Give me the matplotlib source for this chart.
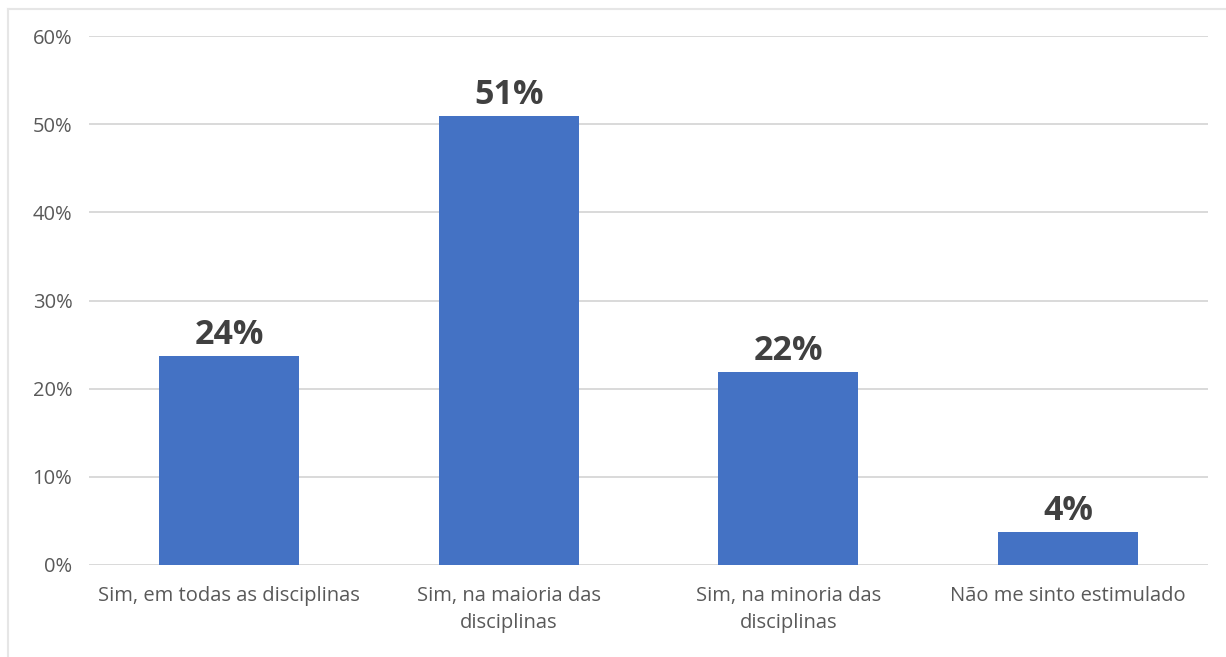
import matplotlib
matplotlib.use("Agg")
import matplotlib.pyplot as plt
from matplotlib.lines import Line2D

categories = ["Sim, em todas as disciplinas", "Sim, na maioria das\ndisciplinas",
              "Sim, na minoria das\ndisciplinas", "Não me sinto estimulado"]
values = [23.7, 50.9, 21.9, 3.7]
yticks = [0, 10, 20, 30, 40, 50, 60]

plt.rcParams['font.family'] = ['Open Sans', 'DejaVu Sans']

fig = plt.figure(figsize=(12.26, 6.57), dpi=100)
ax = fig.add_axes([89 / 1226, 1 - 565 / 657, (1208 - 89) / 1226, (565 - 36) / 657])

x = list(range(len(categories)))
ax.bar(x, values, width=0.5, color="#4472C4", zorder=3)

for xi, v in zip(x, values):
    ax.text(xi, v + 0.5, f"{round(v)}%", ha="center", va="bottom",
            fontsize=24.5, fontweight="bold", color="#404040")

ax.set_xlim(-0.5, len(categories) - 0.5)
ax.set_ylim(0, 60)
ax.set_yticks(yticks)
ax.set_yticklabels([f"{t}%" for t in yticks])
ax.set_xticks(x)
ax.set_xticklabels(categories, linespacing=1.45)
ax.tick_params(axis="both", length=0, labelsize=14.5, labelcolor="#595959")
ax.tick_params(axis="y", pad=12)
ax.tick_params(axis="x", pad=15)
ax.grid(axis="y", color="#d9d9d9", linewidth=1.4, zorder=0)
for s in ax.spines.values():
    s.set_visible(False)

# light frame around the chart area (top and left edges)
fig.add_artist(Line2D([8 / 1226, 8 / 1226], [0, 1 - 9 / 657], transform=fig.transFigure,
                      color="#e6e6e6", linewidth=1.5))
fig.add_artist(Line2D([8 / 1226, 1], [1 - 9 / 657, 1 - 9 / 657], transform=fig.transFigure,
                      color="#e6e6e6", linewidth=1.5))

fig.savefig("out.png", dpi=100)
